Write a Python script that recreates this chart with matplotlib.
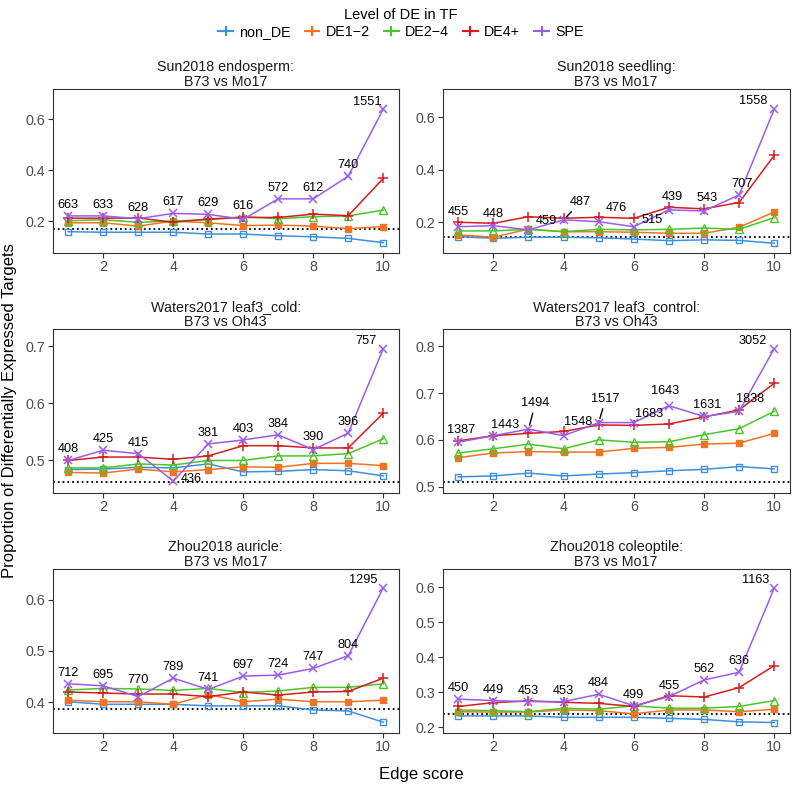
import matplotlib
matplotlib.use("Agg")
import matplotlib.pyplot as plt
from matplotlib.lines import Line2D

plt.rcParams['font.family'] = ['Liberation Sans', 'DejaVu Sans']

# x axis
edge_score = [1, 2, 3, 4, 5, 6, 7, 8, 9, 10]

series_names = ["non_DE", "DE1\u22122", "DE2\u22124", "DE4+", "SPE"]
series_colors = ["#3F8FDF", "#F37325", "#4CC52A", "#D41E1E", "#9B5CF0"]

# Sun2018 endosperm
endo_non_de = [0.158, 0.156, 0.156, 0.156, 0.149, 0.149, 0.142, 0.138, 0.132, 0.115]
endo_de12 = [0.193, 0.193, 0.180, 0.200, 0.193, 0.182, 0.184, 0.180, 0.170, 0.178]
endo_de24 = [0.201, 0.205, 0.195, 0.200, 0.205, 0.217, 0.209, 0.217, 0.220, 0.243]
endo_de4 = [0.211, 0.211, 0.212, 0.195, 0.208, 0.214, 0.214, 0.227, 0.221, 0.367]
endo_spe = [0.220, 0.220, 0.209, 0.230, 0.226, 0.207, 0.287, 0.287, 0.376, 0.639]
endo_n = [663, 633, 628, 617, 629, 616, 572, 612, 740, 1551]
endo_bg = 0.169

# Sun2018 seedling
seed_non_de = [0.145, 0.139, 0.143, 0.143, 0.141, 0.136, 0.130, 0.133, 0.131, 0.120]
seed_de12 = [0.152, 0.143, 0.174, 0.164, 0.164, 0.162, 0.158, 0.158, 0.181, 0.239]
seed_de24 = [0.167, 0.167, 0.173, 0.164, 0.173, 0.171, 0.173, 0.178, 0.173, 0.218]
seed_de4 = [0.200, 0.196, 0.221, 0.215, 0.219, 0.215, 0.257, 0.251, 0.275, 0.454]
seed_spe = [0.183, 0.187, 0.171, 0.209, 0.202, 0.183, 0.247, 0.243, 0.304, 0.630]
seed_n = [455, 448, 459, 487, 476, 515, 439, 543, 707, 1558]
seed_bg = 0.145

# Waters2017 leaf3_cold
cold_non_de = [0.484, 0.485, 0.488, 0.487, 0.494, 0.480, 0.481, 0.484, 0.482, 0.473]
cold_de12 = [0.479, 0.478, 0.485, 0.480, 0.484, 0.489, 0.488, 0.495, 0.495, 0.491]
cold_de24 = [0.487, 0.487, 0.494, 0.492, 0.500, 0.500, 0.508, 0.508, 0.512, 0.538]
cold_de4 = [0.500, 0.506, 0.506, 0.502, 0.508, 0.526, 0.526, 0.522, 0.522, 0.583]
cold_spe = [0.500, 0.518, 0.512, 0.464, 0.529, 0.536, 0.545, 0.519, 0.548, 0.696]
cold_n = [408, 425, 415, 436, 381, 403, 384, 390, 396, 757]
cold_bg = 0.462

# Waters2017 leaf3_control
ctrl_non_de = [0.521, 0.523, 0.529, 0.523, 0.527, 0.530, 0.534, 0.537, 0.543, 0.538]
ctrl_de12 = [0.562, 0.572, 0.575, 0.574, 0.574, 0.582, 0.584, 0.591, 0.593, 0.614]
ctrl_de24 = [0.572, 0.581, 0.591, 0.581, 0.600, 0.595, 0.596, 0.611, 0.624, 0.661]
ctrl_de4 = [0.598, 0.609, 0.614, 0.618, 0.632, 0.631, 0.634, 0.649, 0.664, 0.721]
ctrl_spe = [0.595, 0.609, 0.623, 0.609, 0.637, 0.637, 0.673, 0.650, 0.661, 0.795]
ctrl_n = [1387, 1443, 1494, 1548, 1517, 1683, 1643, 1631, 1838, 3052]
ctrl_bg = 0.509

# Zhou2018 auricle
auri_non_de = [0.401, 0.396, 0.396, 0.396, 0.393, 0.393, 0.393, 0.385, 0.383, 0.361]
auri_de12 = [0.404, 0.401, 0.401, 0.396, 0.415, 0.401, 0.406, 0.401, 0.401, 0.404]
auri_de24 = [0.424, 0.427, 0.426, 0.423, 0.427, 0.419, 0.422, 0.429, 0.429, 0.436]
auri_de4 = [0.420, 0.418, 0.416, 0.416, 0.411, 0.420, 0.414, 0.420, 0.421, 0.447]
auri_spe = [0.436, 0.432, 0.411, 0.447, 0.425, 0.451, 0.453, 0.466, 0.491, 0.623]
auri_n = [712, 695, 770, 789, 741, 697, 724, 747, 804, 1295]
auri_bg = 0.387

# Zhou2018 coleoptile
cole_non_de = [0.232, 0.232, 0.232, 0.228, 0.228, 0.228, 0.225, 0.222, 0.215, 0.213]
cole_de12 = [0.244, 0.243, 0.243, 0.249, 0.247, 0.238, 0.249, 0.249, 0.244, 0.251]
cole_de24 = [0.249, 0.247, 0.244, 0.254, 0.251, 0.261, 0.254, 0.254, 0.259, 0.276]
cole_de4 = [0.259, 0.270, 0.275, 0.271, 0.268, 0.259, 0.290, 0.286, 0.313, 0.376]
cole_spe = [0.280, 0.276, 0.273, 0.273, 0.294, 0.261, 0.287, 0.335, 0.357, 0.598]
cole_n = [450, 449, 453, 453, 484, 499, 455, 562, 636, 1163]
cole_bg = 0.237

panels = [
    ("Sun2018 endosperm:\nB73 vs Mo17",
     [endo_non_de, endo_de12, endo_de24, endo_de4, endo_spe], endo_n, endo_bg),
    ("Sun2018 seedling:\nB73 vs Mo17",
     [seed_non_de, seed_de12, seed_de24, seed_de4, seed_spe], seed_n, seed_bg),
    ("Waters2017 leaf3_cold:\nB73 vs Oh43",
     [cold_non_de, cold_de12, cold_de24, cold_de4, cold_spe], cold_n, cold_bg),
    ("Waters2017 leaf3_control:\nB73 vs Oh43",
     [ctrl_non_de, ctrl_de12, ctrl_de24, ctrl_de4, ctrl_spe], ctrl_n, ctrl_bg),
    ("Zhou2018 auricle:\nB73 vs Mo17",
     [auri_non_de, auri_de12, auri_de24, auri_de4, auri_spe], auri_n, auri_bg),
    ("Zhou2018 coleoptile:\nB73 vs Mo17",
     [cole_non_de, cole_de12, cole_de24, cole_de4, cole_spe], cole_n, cole_bg),
]

# layout (pixels in a 792x786 figure)
W, H = 792, 786
col_x = [(52.5, 399), (442.5, 790)]
row_y = [(89, 253), (329, 493), (569, 733)]
ylims = [(0.0745, 0.718), (0.083, 0.707), (0.443, 0.7305),
         (0.4865, 0.837), (0.340, 0.660), (0.183, 0.653)]
yticks = [[0.2, 0.4, 0.6], [0.2, 0.4, 0.6], [0.5, 0.6, 0.7],
          [0.5, 0.6, 0.7, 0.8], [0.4, 0.5, 0.6], [0.2, 0.3, 0.4, 0.5, 0.6]]

# label offsets in pixels (dx, dy up); default is straight above
label_shift = [
    {5: (0, 13), 9: (-16, 7)},
    {0: (0, 15), 1: (0, 12), 2: (18, 9), 3: (17, 18), 4: (18, 14), 5: (18, 7),
     6: (3, 13), 7: (3, 13), 8: (3, 11), 9: (-21, 8)},
    {3: (18, 2), 7: (0, 13), 9: (-17, 8)},
    {0: (3, 12), 1: (12, 11), 2: (7, 26), 3: (15, 14), 4: (7, 24), 5: (15, 9),
     6: (-4, 15), 7: (3, 11), 8: (11, 12), 9: (-21, 8)},
    {2: (0, 17), 9: (-20, 8)},
    {9: (-19, 8)},
]
label_arrow = [set(), {3}, set(), {2, 4}, set(), set()]

markers = [dict(marker="s", mfc="none", ms=4.5, mew=1.0),
           dict(marker="s", ms=4.5, mew=1.0),
           dict(marker="^", mfc="none", ms=5.5, mew=1.0),
           dict(marker="+", ms=7, mew=1.1),
           dict(marker="x", ms=5.5, mew=1.1)]

fig = plt.figure(figsize=(W / 100, H / 100), dpi=100)

for i, (title, series, counts, bg) in enumerate(panels):
    r, c = divmod(i, 2)
    x0, x1 = col_x[c]
    y0, y1 = row_y[r]
    ax = fig.add_axes([x0 / W, 1 - y1 / H, (x1 - x0) / W, (y1 - y0) / H])
    for vals, col, mk in zip(series, series_colors, markers):
        ax.plot(edge_score, vals, color=col, lw=1.1, **mk)
    ax.axhline(bg, color="black", ls=":", lw=1.3, zorder=1)
    spe = series[-1]
    for j, n in enumerate(counts):
        dx, dy = label_shift[i].get(j, (0, 11))
        arrow = None
        if j in label_arrow[i]:
            arrow = dict(arrowstyle="-", color="black", lw=1.0,
                         shrinkA=1, shrinkB=3)
        ax.annotate(str(n), (edge_score[j], spe[j]), xytext=(dx, dy),
                    textcoords="offset pixels", ha="center", va="center",
                    fontsize=9.2, arrowprops=arrow)
    ax.set_xlim(0.55, 10.45)
    ax.set_ylim(*ylims[i])
    ax.set_xticks([2, 4, 6, 8, 10])
    ax.set_yticks(yticks[i])
    ax.set_yticklabels([f"{t:.1f}" for t in yticks[i]])
    ax.tick_params(length=3.5, width=0.8, color="#333333", labelcolor="#4D4D4D",
                   labelsize=10.3, pad=1.5)
    for s in ax.spines.values():
        s.set_color("#333333")
        s.set_linewidth(0.8)
    ax.set_title(title, fontsize=10.3, color="#1A1A1A", pad=2, linespacing=1.05)

handles = [Line2D([], [], color=col, marker="+", lw=1.5, ms=7, mew=1.5)
           for col in series_colors]
fig.legend(handles, series_names, loc="upper center", ncol=5, frameon=False,
           bbox_to_anchor=(401 / W, 1 - 0 / H), title="Level of DE in TF",
           fontsize=10.3, title_fontsize=10.5, handlelength=1.0,
           handletextpad=0.45, columnspacing=1.0, borderpad=0.05,
           labelspacing=0.2)

fig.text(421 / W, 1 - 775 / H, "Edge score", ha="center", va="center",
         fontsize=12)
fig.text(10 / W, 1 - 411 / H, "Proportion of Differentially Expressed Targets",
         ha="center", va="center", rotation=90, fontsize=12)

fig.savefig("out.png", dpi=100)
